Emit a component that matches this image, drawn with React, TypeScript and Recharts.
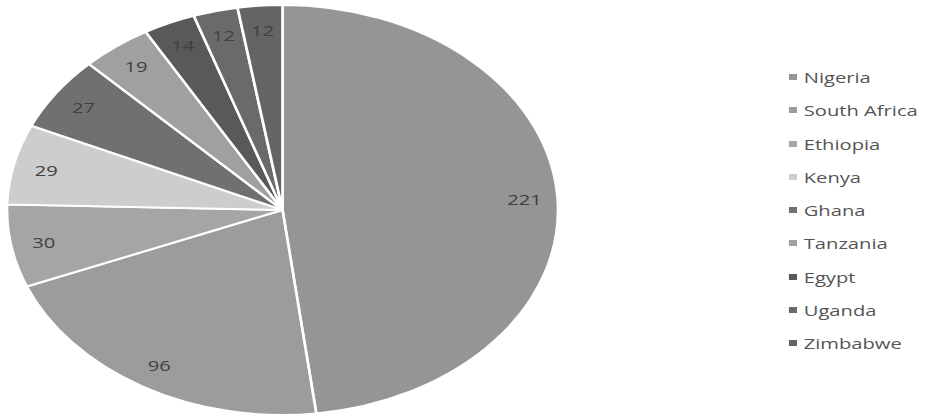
import React from 'react';
import { PieChart, Pie, Cell, Legend } from 'recharts';

const countries = ['Nigeria', 'South Africa', 'Ethiopia', 'Kenya', 'Ghana', 'Tanzania', 'Egypt', 'Uganda', 'Zimbabwe'];
const counts = [221, 96, 30, 29, 27, 19, 14, 12, 12];
const colors = ['#959595', '#9c9c9c', '#a5a5a5', '#cdcdcd', '#707070', '#a0a0a0', '#595959', '#6a6a6a', '#646464'];

const data = countries.map((name, i) => ({ name, value: counts[i] }));

// the whole chart is drawn narrow and then widened, so the pie becomes an ellipse
const STRETCH = 1.344;
const WIDTH = 690;
const HEIGHT = 417;
const RADIAN = Math.PI / 180;

const renderLabel = ({ cx, cy, midAngle, outerRadius, value }: any) => {
  const r = outerRadius * 0.88;
  const x = cx + r * Math.cos(-midAngle * RADIAN);
  const y = cy + r * Math.sin(-midAngle * RADIAN);
  return (
    <text
      x={x}
      y={y}
      fill="#404040"
      fontSize={15}
      fontFamily="'Open Sans', sans-serif"
      textAnchor="middle"
      dominantBaseline="central"
    >
      {value}
    </text>
  );
};

const renderLegend = () => (
  <div style={{ fontFamily: "'Open Sans', sans-serif", fontSize: 15, color: '#555555' }}>
    {countries.map((name, i) => (
      <div key={name} style={{ height: 33.25, display: 'flex', alignItems: 'center' }}>
        <span style={{ width: 6, height: 6, background: colors[i], marginRight: 5, display: 'inline-block' }} />
        <span>{name}</span>
      </div>
    ))}
  </div>
);

export default function App() {
  return (
    <div
      style={{
        position: 'absolute',
        left: 0,
        top: 0,
        width: WIDTH,
        height: HEIGHT,
        transform: `scaleX(${STRETCH})`,
        transformOrigin: '0 0',
        background: '#fff',
      }}
    >
      <PieChart width={WIDTH} height={HEIGHT} margin={{ top: 0, right: 0, bottom: 0, left: 0 }}>
        <Pie
          data={data}
          dataKey="value"
          nameKey="name"
          cx={210.2}
          cy={210}
          outerRadius={205}
          startAngle={90}
          endAngle={-270}
          stroke="#ffffff"
          strokeWidth={2}
          label={renderLabel}
          labelLine={false}
          isAnimationActive={false}
        >
          {data.map((d, i) => (
            <Cell key={d.name} fill={colors[i]} />
          ))}
        </Pie>
        <Legend
          content={renderLegend}
          wrapperStyle={{ left: 587, top: 60.5, width: 100 }}
        />
      </PieChart>
    </div>
  );
}
